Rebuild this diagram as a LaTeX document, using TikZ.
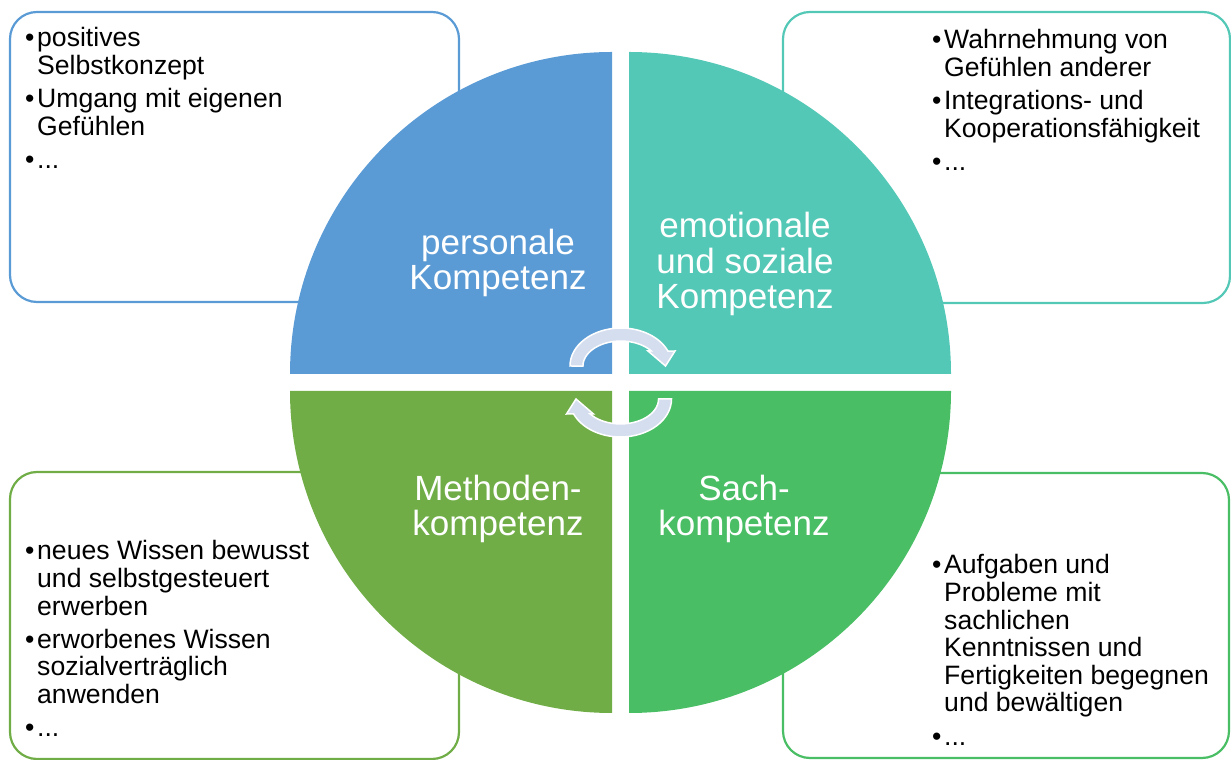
\documentclass[tikz,border=0pt]{standalone}
\usepackage{fontspec}
\setmainfont{Liberation Sans}
\definecolor{pblue}{RGB}{91,155,213}
\definecolor{eteal}{RGB}{84,200,182}
\definecolor{mgreen}{RGB}{112,173,71}
\definecolor{sgreen}{RGB}{73,190,101}
\definecolor{arrowfill}{RGB}{213,222,239}
% one bullet item with hanging indent; lines are broken by hand with \\
\newcommand{\bul}[1]{\par\hangindent=12pt\hangafter=1\noindent\makebox[12pt][l]{\textbullet}#1\par}
\newcommand{\itemgap}{\vspace{5.5pt}}
\newcommand{\listfont}{\fontsize{26.6pt}{27.6pt}\selectfont\lineskiplimit=-30pt\lineskip=0pt}
\begin{document}
\begin{tikzpicture}[x=1pt,y=1pt,
  box/.style={rounded corners=27pt, line width=2.2pt},
  qlabel/.style={text=white, align=center, inner sep=0pt,
                 font=\fontsize{35pt}{35.5pt}\selectfont},
  blist/.style={anchor=base west, inner sep=0pt, text=black},
  cyc/.style={fill=arrowfill, draw=white, line width=1.5pt, line join=miter}]
\useasboundingbox (0,0) rectangle (1231,760);

% outlined boxes behind the quarter circles
\draw[box, pblue]  (10,458)  rectangle (459,748);
\draw[box, eteal]  (783,457) rectangle (1230,748);
\draw[box, mgreen] (10,1)    rectangle (459,288);
\draw[box, sgreen] (783,2)   rectangle (1229,287);

% four quarter circles
\fill[pblue]  (612,386) -- (290,386) arc[start angle=180, end angle=90,  radius=322pt] -- cycle;
\fill[eteal]  (629,386) -- (629,708) arc[start angle=90,  end angle=0,   radius=322pt] -- cycle;
\fill[mgreen] (612,369) -- (290,369) arc[start angle=180, end angle=270, radius=322pt] -- cycle;
\fill[sgreen] (629,369) -- (951,369) arc[start angle=0,   end angle=-90, radius=322pt] -- cycle;

% quadrant titles
\node[qlabel] (pers) at (498,497) {personale\\Kompetenz};
\node[qlabel] (emo)  at (745,496) {emotionale\\und soziale\\Kompetenz};
\node[qlabel] (meth) at (498,251) {Methoden-\\kompetenz};
\node[qlabel] (sach) at (744,251) {Sach-\\kompetenz};

% circular arrows in the middle
\begin{scope}[shift={(621,394)}]
  \draw[cyc] (-51,0) arc[start angle=180, end angle=23, x radius=51pt, y radius=38pt]
    -- (54,15) -- (44.5,0) -- (27,15) -- (30.3,15)
    arc[start angle=37, end angle=180, x radius=38pt, y radius=25pt] -- cycle;
\end{scope}
\begin{scope}[shift={(620.5,361)}, rotate=180]
  \draw[cyc] (-51,0) arc[start angle=180, end angle=23, x radius=51pt, y radius=38pt]
    -- (54,15) -- (44.5,0) -- (27,15) -- (30.3,15)
    arc[start angle=37, end angle=180, x radius=38pt, y radius=25pt] -- cycle;
\end{scope}

% bullet lists
\node[blist] (tl) at (25,713) {\parbox[t]{420pt}{\listfont
  \bul{positives\\Selbstkonzept}\itemgap
  \bul{Umgang mit eigenen\\Gefühlen}\itemgap
  \bul{...}}};
\node[blist] (tr) at (932,711) {\parbox[t]{290pt}{\listfont
  \bul{Wahrnehmung von\\Gefühlen anderer}\itemgap
  \bul{Integrations- und\\Kooperationsfähigkeit}\itemgap
  \bul{...}}};
\node[blist] (bl) at (25,200) {\parbox[t]{420pt}{\listfont
  \bul{neues Wissen bewusst\\und selbstgesteuert\\erwerben}\itemgap
  \bul{erworbenes Wissen\\sozialverträglich\\anwenden}\itemgap
  \bul{...}}};
\node[blist] (br) at (932,186) {\parbox[t]{290pt}{\listfont
  \bul{Aufgaben und\\Probleme mit\\sachlichen\\Kenntnissen und\\Fertigkeiten begegnen\\und bewältigen}\itemgap
  \bul{...}}};
\end{tikzpicture}
\end{document}
